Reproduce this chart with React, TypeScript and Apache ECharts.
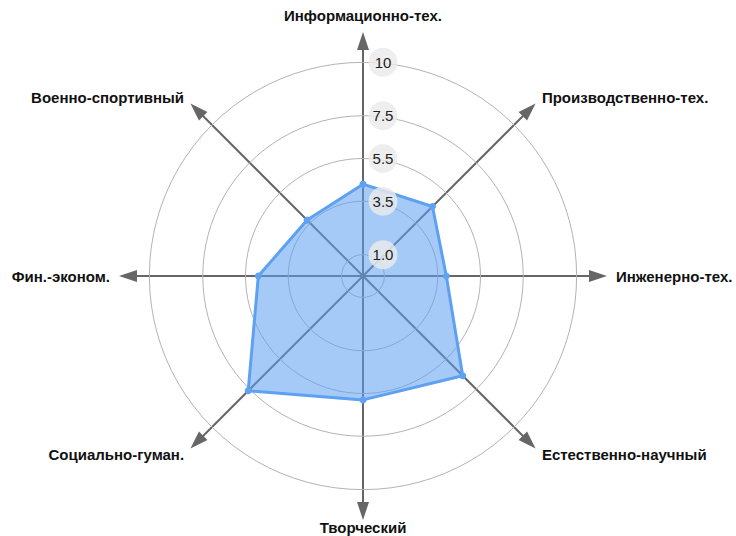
import React, { useEffect, useRef } from 'react';
import * as echarts from 'echarts';

// Axes listed clockwise starting from the top
const axisNames = [
  'Информационно-тех.',
  'Производственно-тех.',
  'Инженерно-тех.',
  'Естественно-научный',
  'Творческий',
  'Социально-гуман.',
  'Фин.-эконом.',
  'Военно-спортивный',
];
const scores = [4.3, 4.6, 3.9, 6.6, 5.8, 7.6, 4.9, 3.7];
const ringValues = [1, 3.5, 5.5, 7.5, 10];
const ringLabels = ['1.0', '3.5', '5.5', '7.5', '10'];
const axisMax = 11;
const ringMax = 10;

export default function App() {
  const ref = useRef<HTMLDivElement>(null);
  useEffect(() => {
    if (!ref.current) return;
    const chart = echarts.init(ref.current, undefined, { renderer: 'svg' });
    // ECharts radar runs counter-clockwise: reorder so the picture reads clockwise
    const order = [0, ...axisNames.map((_, i) => i).slice(1).reverse()];
    const radarNames = order.map((i) => axisNames[i]);
    const radarValues = order.map((i) => scores[i]);
    const bottomName = axisNames[4];
    const cx = 363;
    const cy = 276;
    const radarRadius = 235;
    const ringRadius = (radarRadius * ringMax) / axisMax;
    const font = '"Liberation Sans", Arial, sans-serif';

    chart.setOption({
      animation: false,
      backgroundColor: '#fff',
      radar: {
        center: [cx, cy],
        radius: radarRadius,
        startAngle: 90,
        shape: 'circle',
        splitNumber: 1,
        splitLine: { show: false },
        splitArea: { show: false },
        axisTick: { show: false },
        axisLabel: { show: false },
        axisLine: {
          show: true,
          symbol: ['none', 'triangle'],
          symbolSize: [12, 18],
          lineStyle: { color: '#666', width: 2 },
        },
        nameGap: 18,
        axisName: {
          color: '#111',
          fontWeight: 'bold',
          fontSize: 15,
          fontFamily: font,
          formatter: (name: string) => (name === bottomName ? `{low|${name}}` : name),
          rich: {
            low: {
              color: '#111',
              fontWeight: 'bold',
              fontSize: 15,
              fontFamily: font,
              lineHeight: 6,
              verticalAlign: 'bottom',
            },
          },
        },
        indicator: radarNames.map((name) => ({ name, min: 0, max: axisMax })),
      },
      polar: { center: [cx, cy], radius: ringRadius },
      angleAxis: { type: 'value', min: 0, max: 360, show: false, startAngle: 90 },
      radiusAxis: { type: 'value', min: 0, max: ringMax, show: false },
      series: [
        {
          type: 'custom',
          coordinateSystem: 'polar',
          z: 1,
          silent: true,
          data: ringValues.map((v, i) => [v, 90, i]),
          renderItem: (params: any, api: any) => {
            const cs = params.coordSys;
            const p = api.coord([api.value(0), 90]);
            const r = Math.hypot(p[0] - cs.cx, p[1] - cs.cy);
            return {
              type: 'circle',
              shape: { cx: cs.cx, cy: cs.cy, r },
              style: { fill: 'none', stroke: '#b3b3b3', lineWidth: 1 },
            };
          },
        },
        {
          type: 'radar',
          z: 2,
          symbol: 'circle',
          symbolSize: 7,
          lineStyle: { color: '#5fa2f3', width: 3 },
          itemStyle: { color: '#5fa2f3' },
          areaStyle: { color: '#5b9ff0', opacity: 0.55 },
          data: [{ value: radarValues, name: 'Профиль' }],
        },
        {
          type: 'custom',
          coordinateSystem: 'polar',
          z: 5,
          silent: true,
          data: ringValues.map((v, i) => [v, 90, i]),
          renderItem: (params: any, api: any) => {
            const cs = params.coordSys;
            const p = api.coord([api.value(0), 90]);
            const r = Math.hypot(p[0] - cs.cx, p[1] - cs.cy);
            const lx = cs.cx + 20;
            const ly = cs.cy - r;
            return {
              type: 'group',
              children: [
                {
                  type: 'circle',
                  shape: { cx: lx, cy: ly, r: 14.5 },
                  style: { fill: 'rgba(234,234,234,0.82)' },
                },
                {
                  type: 'text',
                  style: {
                    text: ringLabels[api.value(2)],
                    x: lx,
                    y: ly,
                    align: 'center',
                    verticalAlign: 'middle',
                    fontSize: 15,
                    fontFamily: font,
                    fill: '#222',
                  },
                },
              ],
            };
          },
        },
      ],
    });
    return () => chart.dispose();
  }, []);
  return (
    <div
      ref={ref}
      style={{ position: 'absolute', left: 0, top: 0, width: 736, height: 536 }}
    />
  );
}
